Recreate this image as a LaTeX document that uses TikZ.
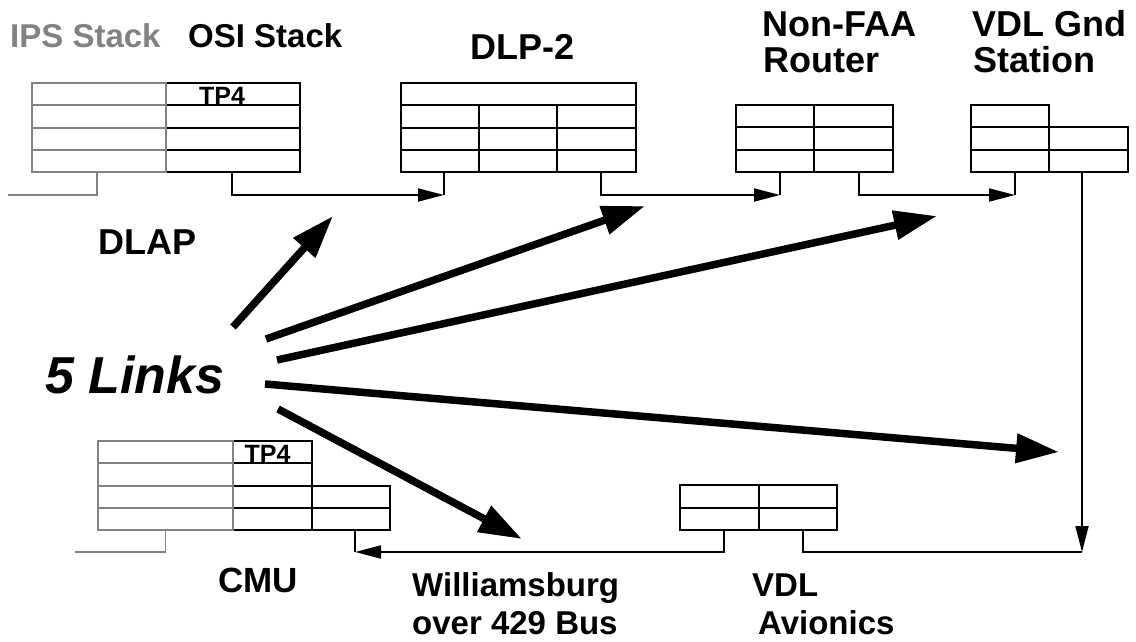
\documentclass[tikz,border=0pt]{standalone}
\usepackage{fontspec}
\setmainfont{Liberation Sans}
\usetikzlibrary{arrows.meta}
\definecolor{ipsgray}{RGB}{130,130,130}
\begin{document}
\begin{tikzpicture}[x=1pt,y=-1pt,
  cellst/.style={draw, line width=2pt, inner sep=0pt, outer sep=0pt, anchor=north west, minimum height=22.25pt},
  graycell/.style={cellst, draw=ipsgray},
  conn/.style={line width=1.8pt},
  arr/.style={conn,-{Triangle[length=26pt,width=13pt]}},
  bigarr/.style={line width=7.5pt,-{Triangle[length=43pt,width=28pt]}},
  lbl/.style={anchor=base west, inner sep=0pt, font=\fontsize{36}{40}\selectfont\bfseries},
  lbls/.style={lbl, font=\fontsize{33}{38}\selectfont\bfseries},
  tpl/.style={anchor=base, inner sep=0pt, font=\fontsize{25}{27}\selectfont\bfseries}]
\fill[white] (0,0) rectangle (1136,642);
\useasboundingbox (0,0) rectangle (1136,642);

% ---- DLAP stack (OSI black, IPS gray)
\foreach \i/\y in {1/83,2/105.25,3/127.5,4/149.75}{
  \node[cellst, minimum width=134pt] (o\i) at (166,\y) {};
}
\foreach \i/\y in {1/83,2/105.25,3/127.5,4/149.75}{
  \node[graycell, minimum width=134pt] (g\i) at (32,\y) {};
}
\node[tpl] (tpA) at ([xshift=-11pt,yshift=1.2pt]o1.south) {TP4};

% ---- DLP-2
\node[cellst, minimum width=235pt] (d1) at (401,83) {};
\foreach \r/\y in {2/105.25,3/127.5,4/149.75}{
  \node[cellst, minimum width=78pt] (d\r1) at (401,\y) {};
  \node[cellst, minimum width=78pt] (d\r2) at (479,\y) {};
  \node[cellst, minimum width=79pt] (d\r3) at (557,\y) {};
}

% ---- Non-FAA router
\foreach \r/\y in {1/105,2/127.33,3/149.67}{
  \node[cellst, minimum width=78pt, minimum height=22.33pt] (n\r1) at (736,\y) {};
  \node[cellst, minimum width=79pt, minimum height=22.33pt] (n\r2) at (814,\y) {};
}

% ---- VDL ground station
\node[cellst, minimum width=78pt, minimum height=22.33pt] (v11) at (971,105) {};
\foreach \r/\y in {2/127.33,3/149.67}{
  \node[cellst, minimum width=78pt, minimum height=22.33pt] (v\r1) at (971,\y) {};
  \node[cellst, minimum width=79pt, minimum height=22.33pt] (v\r2) at (1049,\y) {};
}

% ---- VDL avionics
\foreach \r/\y in {1/485,2/507.5}{
  \node[cellst, minimum width=79pt, minimum height=22.5pt] (a\r1) at (680,\y) {};
  \node[cellst, minimum width=78pt, minimum height=22.5pt] (a\r2) at (759,\y) {};
}

% ---- CMU
\node[cellst, minimum width=79pt] (c11) at (233,441) {};
\node[cellst, minimum width=79pt] (c21) at (233,463.25) {};
\foreach \r/\y in {3/485.5,4/507.75}{
  \node[cellst, minimum width=79pt] (c\r1) at (233,\y) {};
  \node[cellst, minimum width=78pt] (c\r2) at (312,\y) {};
}
\foreach \r/\y in {1/441,2/463.25,3/485.5,4/507.75}{
  \node[graycell, minimum width=135pt] (cg\r) at (98,\y) {};
}
\node[tpl] (tpB) at ([xshift=-5pt,yshift=1.2pt]c11.south) {TP4};

% ---- connector points
\coordinate (rowA) at (0,195);
\coordinate (rowC) at (0,552);
\coordinate (gEndA) at (8,195);
\coordinate (gEndC) at (75,552);
\coordinate (gOut) at ([xshift=-2pt]g4.south);
\coordinate (oOut) at ([xshift=-1pt]o4.south);
\coordinate (dIn) at ([xshift=4pt]d41.south);
\coordinate (dOut) at ([xshift=4.5pt]d43.south);
\coordinate (nIn) at ([xshift=5pt]n31.south);
\coordinate (nOut) at ([xshift=5.5pt]n32.south);
\coordinate (vIn) at ([xshift=5pt]v31.south);
\coordinate (vOut) at ([xshift=-6.5pt]v32.south);
\coordinate (aL) at ([xshift=4.5pt]a21.south);
\coordinate (aR) at ([xshift=5pt]a22.south);
\coordinate (cIn) at ([xshift=4pt]c42.south);
\coordinate (cgOut) at (cg4.south);

% ---- thin connectors
\draw[conn, ipsgray] (gOut) |- (gEndA);
\draw[arr] (oOut) |- (dIn |- rowA);
\draw[conn] (dIn) -- (dIn |- rowA);
\draw[arr] (dOut) |- (nIn |- rowA);
\draw[conn] (nIn) -- (nIn |- rowA);
\draw[arr] (nOut) |- (vIn |- rowA);
\draw[conn] (vIn) -- (vIn |- rowA);
\draw[arr] (vOut) -- (vOut |- rowC);
\draw[conn] (aR) |- (vOut |- rowC);
\draw[arr] (aL) |- (cIn |- rowC);
\draw[conn] (cIn) -- (cIn |- rowC);
\draw[conn, ipsgray] (cgOut) |- (gEndC);

% ---- five links
\coordinate (s1) at (233,327); \coordinate (t1) at (333,216);
\coordinate (s2) at (266,339); \coordinate (t2) at (645,206);
\coordinate (s3) at (277,360); \coordinate (t3) at (937,216);
\coordinate (s4) at (265,384); \coordinate (t4) at (1059,452);
\coordinate (s5) at (278,409); \coordinate (t5) at (522,539);
\draw[bigarr] (s1) -- (t1);
\draw[bigarr] (s2) -- (t2);
\draw[bigarr] (s3) -- (t3);
\draw[bigarr] (s4) -- (t4);
\draw[bigarr] (s5) -- (t5);

% ---- labels
\node[lbls, text=ipsgray] (ips) at (10,48) {IPS Stack};
\node[lbls] (osi) at (188,48) {OSI Stack};
\node[lbl] (dlp) at (470,60) {DLP-2};
\node[lbl] (nf1) at (762,37) {Non-FAA};
\node[lbl] (nf2) at (763,73) {Router};
\node[lbl] (vg1) at (972,37) {VDL Gnd};
\node[lbl] (vg2) at (973,73) {Station};
\node[lbl] (dlap) at (98,254) {DLAP};
\node[lbl, font=\fontsize{52}{56}\selectfont\bfseries\itshape] (links) at (45,393) {5 Links};
\node[lbl, font=\fontsize{35}{40}\selectfont\bfseries] (cmu) at (218,592) {CMU};
\node[lbls] (wb1) at (412,596) {Williamsburg};
\node[lbls] (wb2) at (412,634) {over 429 Bus};
\node[lbls] (va1) at (752,596) {VDL};
\node[lbls] (va2) at (758,634) {Avionics};
\end{tikzpicture}
\end{document}
